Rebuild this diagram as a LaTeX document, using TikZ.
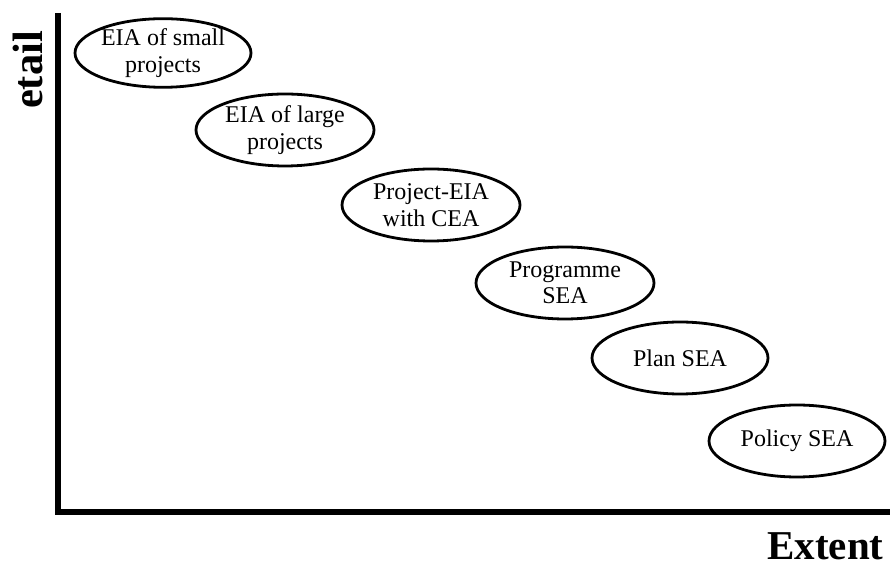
\documentclass[tikz,border=0pt]{standalone}
\usepackage{fontspec}
\setmainfont{Liberation Serif}
\usetikzlibrary{shapes.geometric}
\begin{document}
\begin{tikzpicture}[x=1pt,y=1pt,
  oval/.style={ellipse,draw,line width=2.8pt,inner sep=0pt,minimum width=178pt,minimum height=72pt,align=center,font=\fontsize{24}{26.5}\selectfont},
  axislbl/.style={font=\fontsize{41}{44}\selectfont\bfseries,inner sep=0pt}]
\useasboundingbox (0,0) rectangle (890,564);
\coordinate (top) at (58,551);
\coordinate (origin) at (58,52);
\coordinate (right) at (890,52);
\draw[line width=6pt,line join=miter] (top) -- (origin) -- (right);
\node[axislbl,font=\fontsize{42.5}{44}\selectfont\bfseries,rotate=90,anchor=base] (ylab) at (42,494) {etail};
\node[axislbl,anchor=base] (xlab) at (825.5,5) {Extent};
\node[oval,minimum height=61pt,minimum width=176pt] (e1) at (163,511) {EIA of small\\projects};
\node[oval] (e2) at (285,434) {EIA of large\\projects};
\node[oval] (e3) at (431,359) {Project-EIA\\with CEA};
\node[oval] (e4) at (565,281) {Programme\\SEA};
\node[oval,minimum width=176pt] (e5) at (680,206) {Plan SEA};
\node[oval,minimum width=176pt] (e6) at (797,123) {Policy SEA};
\end{tikzpicture}
\end{document}
